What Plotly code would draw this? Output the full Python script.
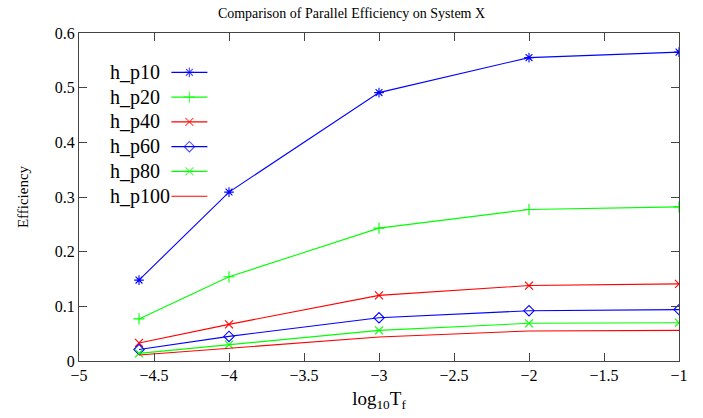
import plotly.graph_objects as go

log_tf = [-4.6, -4.0, -3.0, -2.0, -1.0]
h_p10 = [0.148, 0.309, 0.491, 0.555, 0.565]
h_p20 = [0.077, 0.154, 0.243, 0.277, 0.282]
h_p40 = [0.033, 0.067, 0.120, 0.138, 0.141]
h_p60 = [0.021, 0.045, 0.079, 0.092, 0.094]
h_p80 = [0.014, 0.030, 0.056, 0.069, 0.070]
h_p100 = [0.011, 0.023, 0.044, 0.055, 0.056]

names = ["h_p10", "h_p20", "h_p40", "h_p60", "h_p80", "h_p100"]
series = [h_p10, h_p20, h_p40, h_p60, h_p80, h_p100]
colors = ["#0000ff", "#00ff00", "#ff0000", "#0000ff", "#00ff00", "#ff0000"]
symbols = ["asterisk-open", "cross-thin-open", "x-thin-open", "diamond-open", "x-thin-open", None]

FONT = "Liberation Serif"
MS = 8
fig = go.Figure()

for name, ys, c, s in zip(names, series, colors, symbols):
    mode = "lines+markers" if s else "lines"
    marker = dict(symbol=s, size=MS, color=c, line=dict(color=c, width=1.1)) if s else None
    fig.add_trace(go.Scatter(x=log_tf, y=ys, mode=mode, name=name,
                             line=dict(color=c, width=1.1), marker=marker,
                             showlegend=False))

# gnuplot-style key: text on left, sample on right
row0 = 0.88
dy = 0.0755
for i, (name, c, s) in enumerate(zip(names, colors, symbols)):
    yk = row0 - i * dy
    fig.add_annotation(x=0.048, y=yk, xref="x domain", yref="y domain",
                       text=name, showarrow=False, xanchor="left", yanchor="middle",
                       font=dict(family=FONT, size=20, color="black"))
    mode = "lines+markers" if s else "lines"
    fig.add_trace(go.Scatter(x=[0.154, 0.184, 0.214], y=[yk, yk, yk],
                             xaxis="x2", yaxis="y2", mode=mode,
                             line=dict(color=c, width=1.1),
                             marker=dict(symbol=s, size=[0, MS, 0], color=c,
                                         line=dict(color=c, width=1.1)) if s else None,
                             showlegend=False, hoverinfo="skip"))

axis_common = dict(showgrid=False, zeroline=False, showline=True, linecolor="#444444",
                   linewidth=1.2, mirror="ticks", ticks="inside", ticklen=8,
                   tickcolor="#444444", tickwidth=1.2,
                   tickfont=dict(family=FONT, size=16, color="black"))

fig.update_layout(
    width=703, height=418,
    margin=dict(l=79, r=24, t=33, b=55),
    plot_bgcolor="white", paper_bgcolor="white",
    title=dict(text="Comparison of Parallel Efficiency on System X", x=0.5, xanchor="center",
               y=1 - 13 / 418, yanchor="middle",
               font=dict(family=FONT, size=14, color="black")),
    xaxis=dict(range=[-5, -1], tickmode="array",
               tickvals=[-5, -4.5, -4, -3.5, -3, -2.5, -2, -1.5, -1],
               ticktext=["\u22125", "\u22124.5", "\u22124", "\u22123.5", "\u22123",
                         "\u22122.5", "\u22122", "\u22121.5", "\u22121"],
               title=dict(text="log<sub>10</sub>T<sub>f</sub>", standoff=8,
                          font=dict(family=FONT, size=19, color="black")),
               **axis_common),
    yaxis=dict(range=[0, 0.6], tickmode="array",
               tickvals=[0, 0.1, 0.2, 0.3, 0.4, 0.5, 0.6],
               ticktext=["0", "0.1", "0.2", "0.3", "0.4", "0.5", "0.6"],
               title=dict(text="Efficiency", standoff=22,
                          font=dict(family=FONT, size=15, color="black")),
               **axis_common),
    xaxis2=dict(range=[0, 1], overlaying="x", visible=False, fixedrange=True),
    yaxis2=dict(range=[0, 1], overlaying="y", visible=False, fixedrange=True),
)

fig.write_html("out.html")
